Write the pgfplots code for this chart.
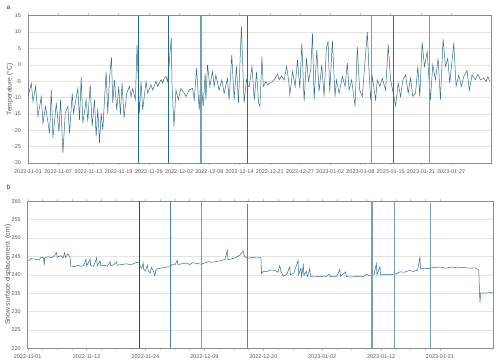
\documentclass[border=0pt]{standalone}
\usepackage{pgfplots}
\pgfplotsset{compat=1.18}
\usepackage{fontspec}
\setmainfont{Liberation Sans}
\definecolor{trace}{HTML}{2F6F8F}
\definecolor{evdark}{HTML}{236C8C}
\definecolor{evlight}{HTML}{6FA1BA}
\definecolor{evmid}{HTML}{4A88A7}
\definecolor{evblack}{HTML}{1B4F66}
\definecolor{frame}{HTML}{8C8C8C}
\definecolor{gridc}{HTML}{E3E3E3}
\definecolor{txt}{HTML}{595959}
\pgfplotsset{
  common/.style={
    scale only axis,
    anchor=north west,
    axis line style={draw=frame, line width=0.6pt},
    ymajorgrids, grid style={draw=gridc, line width=0.5pt},
    ytick style={draw=none},
    xtick style={draw=gridc!70!frame, line width=0.4pt},
    tick align=outside,
    major tick length=2.5bp,
    minor tick length=2bp,
    /pgf/number format/assume math mode=true,
    tick label style={font=\fontsize{5.5}{6}\selectfont, text=txt},
    yticklabel style={xshift=-1bp},
    xticklabel style={yshift=-0.3bp},
    label style={font=\fontsize{6.8}{8}\selectfont, text=txt},
    axis on top=false,
  }
}
\begin{document}
\begin{tikzpicture}
\useasboundingbox (0,0) rectangle (500bp,-363bp);
\node[anchor=west, font=\fontsize{6.5}{7}\selectfont, text=black!80] at (3bp,-8bp) {a};
\node[anchor=west, font=\fontsize{6.5}{7}\selectfont, text=black!80] at (3bp,-187bp) {b};
% ---------------- panel a ----------------
\begin{axis}[common,
  at={(28bp,-15.7bp)}, width=463bp, height=147.3bp,
  xmin=0, xmax=95.2, ymin=-30, ymax=15,
  ytick={-30,-25,...,15},
  xtick={0,6.214,12.429,18.643,24.857,31.071,37.286,43.5,49.714,55.929,62.143,68.357,74.571,80.786,87},
  xticklabels={2022-11-01,2022-11-07,2022-11-13,2022-11-19,2022-11-26,2022-12-02,2022-12-08,2022-12-14,2022-12-21,2022-12-27,2023-01-02,2023-01-08,2023-01-15,2023-01-21,2023-01-27},
  ylabel={Temperature (°C)},
  ylabel style={at={(axis description cs:-0.039,0.5)}, anchor=center},
]
\addplot[trace, line width=0.5pt] coordinates {
(0,-9.7) (0.68,-5.6) (1.03,-11.2) (1.57,-6.6) (2.05,-15.8) (2.73,-9.7) (3.08,-17.8) (3.6,-12.7)
(4.44,-20.9) (4.78,-7.7) (5.13,-22.4) (5.81,-11.7) (6.36,-20.4) (6.70,-10.7) (7.18,-27.0) (7.66,-14.8)
(8.20,-12.7) (8.54,-20.9) (9.09,-8.7) (9.36,-14.8) (10.25,-7.2) (10.59,-16.8) (10.94,-3.8) (11.28,-17.8)
(11.96,-10.7) (12.30,-17.3) (12.78,-6.1) (13.19,-18.8) (13.67,-10.7) (14.01,-21.9) (14.35,-13.3) (14.70,-23.9)
(15.04,-14.8) (15.38,-19.9) (16.06,-2.1) (16.40,-14.8) (16.75,-4.1) (17.16,2.3) (17.43,-11.7) (17.77,-4.6)
(18.25,-13.8) (18.66,-6.6) (19.00,-15.3) (19.34,-5.6) (19.75,-16.3) (20.30,-8.7) (20.85,-6.6) (21.19,-9.7)
(21.53,-7.2) (22.08,-10.7) (22.42,6.1) (22.90,-14.8) (23.24,-5.1) (23.58,-13.8) (24.27,-5.1) (24.61,-8.7)
(25.29,-6.1) (25.63,-7.7) (26.32,-5.1) (26.66,-6.6) (27.34,-4.6) (27.68,-5.6) (28.02,-4.1) (28.37,-3.6)
(28.71,-5.1) (29.46,8.1) (29.60,-5.6) (30.01,-18.8) (30.42,-7.7) (30.90,-10.7) (31.44,-7.2) (32.13,-8.7)
(32.47,-9.7) (33.15,-7.7) (33.83,-7.2) (34.18,-10.7) (34.66,-1.1) (35.20,-13.8) (35.54,-4.1) (36.02,-12.7)
(36.43,-2.6) (36.57,-10.7) (36.91,0.0) (37.39,-6.6) (37.94,-2.1) (38.28,-6.6) (38.62,-3.1) (39.30,-7.7)
(39.85,-4.6) (40.33,-8.7) (41.01,-4.1) (41.35,-10.7) (41.90,3.0) (42.38,-10.7) (42.86,-0.5) (43.27,-11.7)
(43.88,11.8) (44.43,-11.7) (44.91,-4.6) (45.32,-6.6)
(45.50,-6.6) (46.05,-0.5) (46.53,-10.7) (47.00,-2.1) (47.41,-11.7) (47.69,-12.7) (48.10,2.5) (48.37,-6.6)
(48.92,-5.1) (49.26,-6.1) (49.74,-5.6) (50.28,-5.1) (50.83,-4.1) (51.31,-2.8) (51.65,-4.6) (52.13,-3.4)
(52.68,-4.6) (53.16,-0.5) (53.57,-4.6) (53.84,-9.2) (54.39,-2.1) (54.93,-6.6) (55.41,1.5) (55.89,-7.2)
(56.30,6.6) (56.78,-11.2) (57.26,2.0) (57.67,-5.1) (58.15,-1.1) (58.49,9.6) (58.83,-10.7) (59.38,4.5)
(59.85,-8.2) (60.40,0.0) (60.88,-9.7) (61.36,5.5) (61.70,7.0) (62.04,-8.2) (62.59,7.4) (63.13,-9.7)
(63.41,-4.6) (63.96,-8.7) (64.64,-3.6) (65.19,-6.6) (65.66,0.5) (66.01,-7.7) (66.55,-4.6) (67.24,-12.7)
(67.71,5.5) (68.19,-7.7) (68.74,-9.7) (69.29,1.0) (69.77,10.0) (70.11,-1.6) (70.45,-10.7) (70.79,-3.6)
(71.47,-10.7) (71.82,-4.6) (72.36,-6.6) (72.84,-4.1) (73.52,-7.7) (74.07,6.0) (74.55,-4.6) (75.10,-8.7)
(75.57,-12.5) (76.12,-5.6) (76.60,-9.7) (77.08,-4.6) (77.63,-3.1) (78.17,-8.7) (78.65,-4.1) (79.13,-9.7)
(79.68,-8.7) (80.16,-0.5) (80.56,-9.7) (81.04,7.0) (81.52,-0.5) (82.07,4.0) (82.75,-10.7) (83.23,0.0)
(83.78,-4.6) (84.32,2.0) (84.80,-10.7) (85.35,8.0) (85.83,-0.5) (86.31,2.0) (86.72,-5.6) (87.20,1.5)
(87.54,6.6) (88.02,-6.6) (88.56,-3.1) (89.11,-6.6) (89.59,-3.6) (90.27,-1.8) (90.75,-7.7) (91.30,-3.1)
(91.98,-4.6) (92.53,-2.8) (93.01,-4.6) (93.69,-4.1) (94.17,-5.1) (94.58,-3.6) (94.92,-5.1)
};
\addplot[evdark, line width=1pt] coordinates {(22.62,-30) (22.62,15)};
\addplot[evdark, line width=1pt] coordinates {(28.98,-30) (28.98,15)};
\addplot[evlight, line width=1.6pt] coordinates {(35.62,-30) (35.62,15)};
\addplot[evdark, line width=1pt] coordinates {(45.06,-30) (45.06,15)};
\addplot[evlight, line width=1.2pt] coordinates {(70.55,-30) (70.55,15)};
\addplot[evdark, line width=1pt] coordinates {(75.12,-30) (75.12,15)};
\addplot[evlight, line width=1.6pt] coordinates {(82.59,-30) (82.59,15)};
\end{axis}
% ---------------- panel b ----------------
\begin{axis}[common,
  at={(27.7bp,-201.3bp)}, width=465.3bp, height=147bp,
  xmin=0, xmax=7.9, ymin=220, ymax=260,
  ytick={220,225,...,260},
  xtick={0,1,2,3,4,5,6,7},
  minor x tick num=3,
  xticklabels={2022-11-01,2022-11-12,2022-11-24,2022-12-09,2022-12-20,2023-01-02,2023-01-12,2023-01-21},
  ylabel={Snow surface displacement\ \ (cm)},
  ylabel style={at={(axis description cs:-0.042,0.5)}, anchor=center},
]
\addplot[trace, line width=0.5pt] coordinates {
(0,244.0) (0.04,244.0) (0.05,244.4) (0.12,244.3) (0.2,244.0) (0.22,244.8) (0.27,244.6) (0.28,242.6)
(0.29,244.7) (0.35,244.9) (0.40,244.6) (0.44,245.0) (0.49,246.0) (0.50,244.8) (0.56,245.2) (0.60,244.6)
(0.63,246.1) (0.64,244.7) (0.68,245.6) (0.70,245.3) (0.72,244.8) (0.73,242.4) (0.80,242.2) (0.86,242.6)
(0.90,242.3) (0.95,242.5) (0.99,244.2) (1.00,242.4) (1.06,244.3) (1.07,242.5) (1.12,242.3) (1.17,244.6)
(1.18,242.4) (1.23,243.8) (1.24,242.5) (1.30,242.6) (1.35,242.3) (1.40,243.6) (1.41,242.5) (1.46,242.7)
(1.51,243.5) (1.52,242.6) (1.60,242.8) (1.68,243.0) (1.75,242.7) (1.85,243.4) (1.90,243.3) (1.91,242.2)
(1.94,241.8) (1.96,243.2) (1.97,241.5) (2.00,241.0) (2.03,242.6) (2.05,241.0) (2.08,240.5) (2.10,242.0)
(2.13,241.2) (2.16,239.8) (2.18,241.5) (2.22,241.7) (2.30,241.9) (2.38,242.2) (2.42,242.1) (2.45,242.8)
(2.50,242.7) (2.54,243.9) (2.55,242.8) (2.62,243.0) (2.70,243.2) (2.75,242.8) (2.80,243.3) (2.90,243.0)
(2.95,242.9) (3.00,243.2) (3.08,243.6) (3.12,243.4) (3.20,243.6) (3.30,243.9) (3.35,244.2) (3.39,246.6)
(3.40,244.1) (3.45,244.3) (3.52,244.6) (3.56,245.0) (3.60,245.3) (3.66,246.5) (3.68,245.0) (3.74,244.5)
(3.80,244.7) (3.90,244.6) (3.96,244.7) (3.97,240.3) (4.00,241.0) (4.05,240.8) (4.12,241.3) (4.20,241.2)
(4.25,240.7) (4.28,242.5) (4.30,241.0) (4.34,239.6) (4.40,240.2) (4.45,242.2) (4.46,240.0) (4.52,240.5)
(4.59,243.9) (4.60,240.0) (4.64,241.8) (4.65,239.6) (4.68,242.6) (4.69,239.8) (4.73,241.0) (4.75,239.5)
(4.79,241.7) (4.80,239.6) (4.85,239.4) (4.95,239.6) (5.05,239.4) (5.12,240.2) (5.14,239.5) (5.25,239.6)
(5.30,241.5) (5.31,239.6) (5.40,240.8) (5.41,239.5) (5.50,239.4) (5.60,239.6) (5.70,239.5) (5.75,240.2)
(5.80,239.7) (5.88,240.0) (5.92,243.0) (5.93,240.0) (5.98,242.2) (5.99,239.9) (6.05,240.1) (6.15,240.0)
(6.26,240.3) (6.32,240.8) (6.40,240.7) (6.48,241.2) (6.55,240.9) (6.62,241.3) (6.66,244.8) (6.67,241.5)
(6.72,241.8) (6.80,241.7) (6.90,242.0) (7.00,242.1) (7.10,241.8) (7.20,242.1) (7.30,241.9) (7.40,242.0)
(7.50,241.8) (7.60,241.9) (7.66,241.3) (7.67,235.4) (7.68,232.4) (7.69,235.1) (7.75,235.0) (7.82,235.1)
(7.90,235.3)
};
\addplot[evblack, line width=0.8pt] coordinates {(1.895,220) (1.895,260)};
\addplot[evmid, line width=1pt] coordinates {(2.416,220) (2.416,260)};
\addplot[evlight, line width=1.6pt] coordinates {(2.954,220) (2.954,260)};
\addplot[evmid, line width=1pt] coordinates {(3.728,220) (3.728,259.4)};
\addplot[evlight, line width=1.2pt] coordinates {(5.846,220) (5.846,260)};
\addplot[evlight, line width=1.2pt] coordinates {(6.231,220) (6.231,260)};
\addplot[evlight, line width=1.6pt] coordinates {(6.842,220) (6.842,259.6)};
\end{axis}
\end{tikzpicture}
\end{document}
